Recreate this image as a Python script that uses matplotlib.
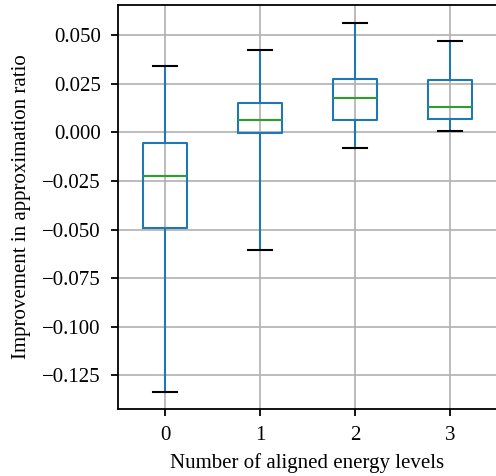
import matplotlib
matplotlib.use("Agg")
import matplotlib.pyplot as plt

plt.rcParams["font.family"] = ["Liberation Serif", "DejaVu Serif"]
plt.rcParams["font.size"] = 15

levels = [0, 1, 2, 3]
whislo = [-0.1335, -0.0603, -0.0082, 0.0005]
q1 = [-0.0490, -0.0005, 0.0062, 0.0067]
med = [-0.0227, 0.0062, 0.0175, 0.0129]
q3 = [-0.0057, 0.0149, 0.0273, 0.0268]
whishi = [0.0340, 0.0423, 0.0562, 0.0469]

stats = [
    {"whislo": lo, "q1": a, "med": m, "q3": b, "whishi": hi, "fliers": [], "label": str(n)}
    for n, lo, a, m, b, hi in zip(levels, whislo, q1, med, q3, whishi)
]

fig = plt.figure(figsize=(4.96, 4.76), dpi=100)
ax = fig.add_axes([117.5 / 496, 67 / 476, 380 / 496, 404 / 476])

ax.bxp(
    stats,
    positions=levels,
    widths=0.46,
    capwidths=0.25,
    boxprops=dict(color="C0", linewidth=1.5),
    whiskerprops=dict(color="C0", linewidth=1.5),
    capprops=dict(color="black", linewidth=1.5),
    medianprops=dict(color="C2", linewidth=1.5),
)

ax.set_xlim(-0.5, 3.5)
ax.set_ylim(-0.1423, 0.0655)
ax.set_yticks([-0.125, -0.100, -0.075, -0.050, -0.025, 0.000, 0.025, 0.050])
ax.grid(True, color="#b0b0b0", linewidth=1.2)
ax.set_axisbelow(True)
for s in ax.spines.values():
    s.set_linewidth(1.3)
ax.tick_params(width=1.3, length=5)
ax.tick_params(axis="y", pad=7)
ax.tick_params(axis="x", pad=7)

ax.set_xlabel("Number of aligned energy levels", labelpad=6)
ax.set_ylabel("Improvement in approximation ratio", labelpad=8)

fig.savefig("out.png", dpi=100)
